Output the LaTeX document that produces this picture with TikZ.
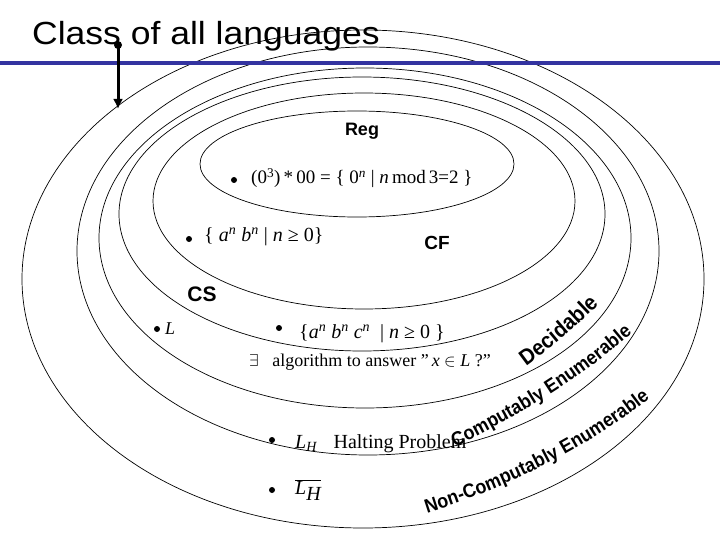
\documentclass[tikz,border=0pt]{standalone}
\usepackage{fontspec}
\usepackage{graphicx}
\setmainfont{Liberation Serif}
\setsansfont{Liberation Sans}
\newfontfamily\curvefont{Liberation Sans}[FakeStretch=0.92]
\usetikzlibrary{arrows.meta,decorations.text}
\definecolor{barblue}{RGB}{51,51,160}
\newcommand{\fs}[1]{\fontsize{#1}{#1}\selectfont}
\begin{document}
\begin{tikzpicture}[x=1pt,y=-1pt,
  ring/.style={draw=black, line width=0.7pt},
  lbl/.style={font=\sffamily\bfseries, inner sep=0},
  mth/.style={inner sep=0, anchor=west},
  bul/.style={circle, fill=black, inner sep=0, minimum size=6pt},
  curvetext/.style 2 args={decorate, decoration={text along path, text format delimiters={|}{|},
     text={|\curvefont\bfseries\fs{#1}|#2}}}]
\useasboundingbox (0,0) rectangle (720,540);
\fill[white] (0,0) rectangle (720,540);
% nested classes
\draw[ring] (357,164) ellipse [x radius=157pt, y radius=53pt];
\draw[ring] (364,201) ellipse [x radius=211pt, y radius=108pt];
\draw[ring] (362,214) ellipse [x radius=243pt, y radius=137pt];
\draw[ring] (365,238) ellipse [x radius=266pt, y radius=170pt];
\draw[ring] (368,251) ellipse [x radius=291pt, y radius=204pt];
\draw[ring] (363,279) ellipse [x radius=341pt, y radius=249pt];
% title and bar
\node[anchor=base west, inner sep=0, font=\sffamily\fs{32}] (title) at (32,45) {\scalebox{1.11}[1]{Class of all languages}};
\coordinate (barL) at (0,63);
\coordinate (barR) at (720,63);
\draw[barblue, line width=4pt] (barL) -- (barR);
\node[circle, fill=black, inner sep=0, minimum size=8pt] (adot) at (118,45) {};
\coordinate (atip) at (118,109);
\draw[line width=3pt, -{Latex[length=10pt,width=10pt]}] (adot.center) -- (atip);
% labels
\node[lbl, font=\sffamily\bfseries\fs{18}] (reg) at (362,131) {Reg};
\node[lbl, font=\sffamily\bfseries\fs{19}] (cf) at (437,243) {CF};
\node[lbl, font=\sffamily\bfseries\fs{21}] (cs) at (202,294) {CS};
% members
\node[bul] (b1) at (234,180) {};
\node[mth, font=\fs{19}] (f1) at (251,178) {(0\textsuperscript{3})\,*\,00 = \{ 0\textsuperscript{\itshape n} | \textit{n}\,mod\,3=2 \}};
\node[bul] (b2) at (189,239) {};
\node[mth, font=\fs{20}] (f2) at (204,237) {\{\ \textit{a}\textsuperscript{\itshape n}\ \textit{b}\textsuperscript{\itshape n} | \textit{n} ≥ 0\}};
\node[bul] (b3) at (157,329) {};
\node[mth, font=\fs{18}] (f3) at (165,329) {\textit{L}};
\node[bul] (b4) at (279,328) {};
\node[mth, font=\fs{20}] (f4) at (299,334) {\{\textit{a}\textsuperscript{\itshape n}\ \textit{b}\textsuperscript{\itshape n}\ \textit{c}\textsuperscript{\itshape n}\ \ | \textit{n} ≥ 0 \}};
\node[mth, font=\fs{18}] (f5) at (249,362) {$\exists$\hspace{9pt} algorithm to answer "\,\textit{x} $\in$ \textit{L} ?"};
\node[bul] (b6) at (272,440) {};
\node[mth, font=\fs{20}] (f6) at (295,444) {\textit{L}\textsubscript{\textit{H}}\hspace{16pt}Halting Problem};
\node[bul] (b7) at (272,490) {};
\node[mth, font=\fs{20}] (f7) at (295,490) {$\overline{\textit{L}_{\textit{H}}}$};
% curved labels
\path[curvetext={22}{Decidable}] (526,366) .. controls (555,345) and (585,320) .. (625,278);
\path[curvetext={19.5}{Computably Enumerable}] (455,447) .. controls (520,415) and (590,375) .. (660,308);
\path[curvetext={19.5}{Non-Computably Enumerable}] (427,513) .. controls (500,490) and (590,450) .. (670,382);
\end{tikzpicture}
\end{document}
